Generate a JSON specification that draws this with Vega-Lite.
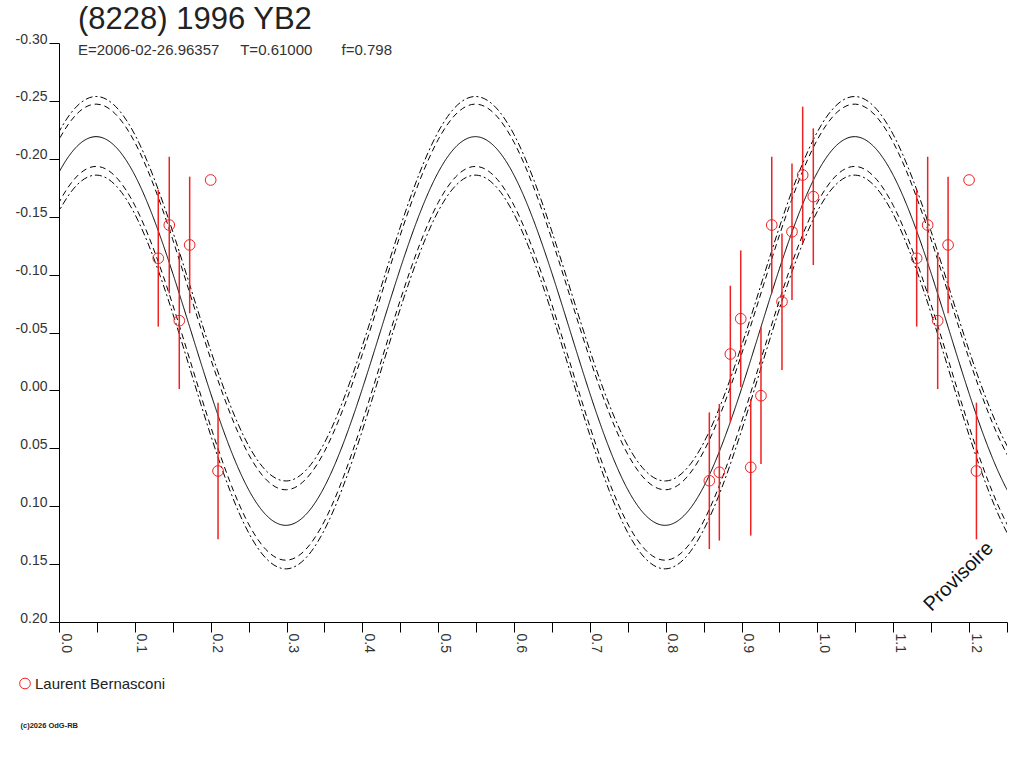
{
  "$schema": "https://vega.github.io/schema/vega-lite/v6.json",
  "description": "Lightcurve of (8228) 1996 YB2, phase plot with Fourier fit and observations",
  "autosize": {"type": "none"},
  "width": 948,
  "height": 579,
  "padding": {"left": 59, "top": 43, "right": 17, "bottom": 146},
  "title": {
    "text": "(8228) 1996 YB2",
    "subtitle": "E=2006-02-26.96357\u00a0\u00a0\u00a0\u00a0\u00a0T=0.61000\u00a0\u00a0\u00a0\u00a0\u00a0\u00a0\u00a0f=0.798",
    "anchor": "start",
    "frame": "group",
    "dx": 19,
    "offset": -27,
    "font": "Liberation Sans",
    "fontSize": 31,
    "fontWeight": "normal",
    "color": "#222222",
    "subtitleFont": "Liberation Sans",
    "subtitleFontSize": 15,
    "subtitleColor": "#333333",
    "subtitlePadding": 7
  },
  "datasets": {
    "curves": [
      {"phase": -0.10, "A": -0.0385, "B": -0.0312, "C": -0.0015, "D": 0.0271, "E": 0.0346},
      {"phase": -0.05, "A": -0.1411, "B": -0.1341, "C": -0.1052, "D": -0.0780, "E": -0.0705},
      {"phase": 0.00, "A": -0.2233, "B": -0.2166, "C": -0.1883, "D": -0.1622, "E": -0.1547},
      {"phase": 0.05, "A": -0.2538, "B": -0.2472, "C": -0.2191, "D": -0.1934, "E": -0.1859},
      {"phase": 0.10, "A": -0.2209, "B": -0.2142, "C": -0.1858, "D": -0.1597, "E": -0.1522},
      {"phase": 0.15, "A": -0.1371, "B": -0.1302, "C": -0.1011, "D": -0.0739, "E": -0.0664},
      {"phase": 0.20, "A": -0.0345, "B": -0.0273, "C": 0.0026, "D": 0.0312, "E": 0.0387},
      {"phase": 0.25, "A": 0.0477, "B": 0.0552, "C": 0.0857, "D": 0.1154, "E": 0.1229},
      {"phase": 0.30, "A": 0.0782, "B": 0.0858, "C": 0.1165, "D": 0.1466, "E": 0.1541},
      {"phase": 0.35, "A": 0.0453, "B": 0.0528, "C": 0.0832, "D": 0.1129, "E": 0.1204},
      {"phase": 0.40, "A": -0.0385, "B": -0.0312, "C": -0.0015, "D": 0.0271, "E": 0.0346},
      {"phase": 0.45, "A": -0.1411, "B": -0.1341, "C": -0.1052, "D": -0.0780, "E": -0.0705},
      {"phase": 0.50, "A": -0.2233, "B": -0.2166, "C": -0.1883, "D": -0.1622, "E": -0.1547},
      {"phase": 0.55, "A": -0.2538, "B": -0.2472, "C": -0.2191, "D": -0.1934, "E": -0.1859},
      {"phase": 0.60, "A": -0.2209, "B": -0.2142, "C": -0.1858, "D": -0.1597, "E": -0.1522},
      {"phase": 0.65, "A": -0.1371, "B": -0.1302, "C": -0.1011, "D": -0.0739, "E": -0.0664},
      {"phase": 0.70, "A": -0.0345, "B": -0.0273, "C": 0.0026, "D": 0.0312, "E": 0.0387},
      {"phase": 0.75, "A": 0.0477, "B": 0.0552, "C": 0.0857, "D": 0.1154, "E": 0.1229},
      {"phase": 0.80, "A": 0.0782, "B": 0.0858, "C": 0.1165, "D": 0.1466, "E": 0.1541},
      {"phase": 0.85, "A": 0.0453, "B": 0.0528, "C": 0.0832, "D": 0.1129, "E": 0.1204},
      {"phase": 0.90, "A": -0.0385, "B": -0.0312, "C": -0.0015, "D": 0.0271, "E": 0.0346},
      {"phase": 0.95, "A": -0.1411, "B": -0.1341, "C": -0.1052, "D": -0.0780, "E": -0.0705},
      {"phase": 1.00, "A": -0.2233, "B": -0.2166, "C": -0.1883, "D": -0.1622, "E": -0.1547},
      {"phase": 1.05, "A": -0.2538, "B": -0.2472, "C": -0.2191, "D": -0.1934, "E": -0.1859},
      {"phase": 1.10, "A": -0.2209, "B": -0.2142, "C": -0.1858, "D": -0.1597, "E": -0.1522},
      {"phase": 1.15, "A": -0.1371, "B": -0.1302, "C": -0.1011, "D": -0.0739, "E": -0.0664},
      {"phase": 1.20, "A": -0.0345, "B": -0.0273, "C": 0.0026, "D": 0.0312, "E": 0.0387},
      {"phase": 1.25, "A": 0.0477, "B": 0.0552, "C": 0.0857, "D": 0.1154, "E": 0.1229},
      {"phase": 1.30, "A": 0.0782, "B": 0.0858, "C": 0.1165, "D": 0.1466, "E": 0.1541},
      {"phase": 1.35, "A": 0.0453, "B": 0.0528, "C": 0.0832, "D": 0.1129, "E": 0.1204}
    ],
    "obs": [
      {"phase": 0.1309, "mag": -0.1141, "err": 0.059, "observer": "Laurent Bernasconi"},
      {"phase": 0.1454, "mag": -0.1428, "err": 0.059, "observer": "Laurent Bernasconi"},
      {"phase": 0.1586, "mag": -0.0602, "err": 0.059, "observer": "Laurent Bernasconi"},
      {"phase": 0.1723, "mag": -0.1256, "err": 0.059, "observer": "Laurent Bernasconi"},
      {"phase": 0.2000, "mag": -0.1817, "err": 0, "observer": "Laurent Bernasconi"},
      {"phase": 0.2097, "mag": 0.0696, "err": 0.059, "observer": "Laurent Bernasconi"},
      {"phase": 0.8575, "mag": 0.0780, "err": 0.059, "observer": "Laurent Bernasconi"},
      {"phase": 0.8707, "mag": 0.0707, "err": 0.059, "observer": "Laurent Bernasconi"},
      {"phase": 0.8852, "mag": -0.0314, "err": 0.059, "observer": "Laurent Bernasconi"},
      {"phase": 0.8989, "mag": -0.0619, "err": 0.059, "observer": "Laurent Bernasconi"},
      {"phase": 0.9121, "mag": 0.0664, "err": 0.059, "observer": "Laurent Bernasconi"},
      {"phase": 0.9256, "mag": 0.0046, "err": 0.059, "observer": "Laurent Bernasconi"},
      {"phase": 0.9398, "mag": -0.1428, "err": 0.059, "observer": "Laurent Bernasconi"},
      {"phase": 0.9533, "mag": -0.0766, "err": 0.059, "observer": "Laurent Bernasconi"},
      {"phase": 0.9665, "mag": -0.1370, "err": 0.059, "observer": "Laurent Bernasconi"},
      {"phase": 0.9806, "mag": -0.1860, "err": 0.059, "observer": "Laurent Bernasconi"},
      {"phase": 0.9946, "mag": -0.1673, "err": 0.059, "observer": "Laurent Bernasconi"},
      {"phase": 1.1309, "mag": -0.1141, "err": 0.059, "observer": "Laurent Bernasconi"},
      {"phase": 1.1454, "mag": -0.1428, "err": 0.059, "observer": "Laurent Bernasconi"},
      {"phase": 1.1586, "mag": -0.0602, "err": 0.059, "observer": "Laurent Bernasconi"},
      {"phase": 1.1723, "mag": -0.1256, "err": 0.059, "observer": "Laurent Bernasconi"},
      {"phase": 1.2000, "mag": -0.1817, "err": 0, "observer": "Laurent Bernasconi"},
      {"phase": 1.2097, "mag": 0.0696, "err": 0.059, "observer": "Laurent Bernasconi"}
    ]
  },
  "layer": [
    {
      "data": {"name": "curves"},
      "transform": [{"fold": ["A", "B", "C", "D", "E"], "as": ["curve", "mag"]}],
      "mark": {"type": "line", "interpolate": "natural", "clip": true, "color": "#000000", "strokeWidth": 1},
      "encoding": {
        "x": {"field": "phase", "type": "quantitative"},
        "y": {"field": "mag", "type": "quantitative"},
        "detail": {"field": "curve"},
        "strokeDash": {
          "field": "curve",
          "type": "nominal",
          "scale": {"domain": ["A", "B", "C", "D", "E"], "range": [[7, 3, 2, 3], [6, 4], [1, 0], [6, 4], [7, 3, 2, 3]]},
          "legend": null
        }
      }
    },
    {
      "data": {"name": "obs"},
      "mark": {"type": "errorbar", "color": "#ee2222", "thickness": 1.5},
      "encoding": {
        "x": {"field": "phase", "type": "quantitative"},
        "y": {"field": "mag", "type": "quantitative"},
        "yError": {"field": "err"}
      }
    },
    {
      "data": {"name": "obs"},
      "mark": {"type": "point", "shape": "circle", "filled": false, "size": 114, "strokeWidth": 1, "opacity": 1},
      "encoding": {
        "x": {"field": "phase", "type": "quantitative"},
        "y": {"field": "mag", "type": "quantitative"},
        "color": {
          "field": "observer",
          "type": "nominal",
          "scale": {"range": ["#ee2222"]},
          "legend": {
            "title": null,
            "orient": "none",
            "legendX": -41.5,
            "legendY": 633,
            "padding": 0,
            "symbolType": "circle",
            "symbolSize": 114,
            "symbolStrokeWidth": 1,
            "labelFont": "Liberation Sans",
            "labelFontSize": 15,
            "labelColor": "#222222",
            "labelOffset": 2.5
          }
        }
      }
    },
    {
      "data": {"values": [{"label": "Provisoire"}]},
      "mark": {"type": "text", "angle": 315, "font": "Liberation Sans", "fontSize": 20, "color": "#111111", "align": "center", "baseline": "middle", "clip": false},
      "encoding": {
        "text": {"field": "label"},
        "x": {"datum": 1.1862, "type": "quantitative"},
        "y": {"datum": 0.1608, "type": "quantitative"}
      }
    }
  ],
  "encoding": {
    "x": {
      "type": "quantitative",
      "scale": {"domain": [0, 1.25], "nice": false, "zero": false},
      "axis": {
        "values": [0, 0.05, 0.1, 0.15, 0.2, 0.25, 0.3, 0.35, 0.4, 0.45, 0.5, 0.55, 0.6, 0.65, 0.7, 0.75, 0.8, 0.85, 0.9, 0.95, 1, 1.05, 1.1, 1.15, 1.2, 1.25],
        "labelExpr": "round(datum.value * 20) % 2 == 1 ? '' : format(datum.value, '.1f')",
        "labelAngle": 90,
        "labelAlign": "left",
        "labelBaseline": "alphabetic",
        "labelOffset": 2,
        "labelPadding": 1,
        "labelFlush": false,
        "labelOverlap": false,
        "labelFont": "Liberation Sans",
        "labelFontSize": 14,
        "labelColor": "#333333",
        "tickSize": 10,
        "tickColor": "#000000",
        "domainColor": "#000000",
        "grid": false,
        "title": "(c)2026 OdG-RB",
        "titleFont": "Liberation Sans",
        "titleFontSize": 7.5,
        "titleFontWeight": "bold",
        "titleColor": "#222222",
        "titleX": -39,
        "titleY": 103,
        "titleAlign": "left",
        "titleBaseline": "middle"
      }
    },
    "y": {
      "type": "quantitative",
      "scale": {"domain": [-0.3, 0.2], "reverse": true, "nice": false, "zero": false},
      "axis": {
        "values": [-0.3, -0.25, -0.2, -0.15, -0.1, -0.05, 0, 0.05, 0.1, 0.15, 0.2],
        "labelExpr": "replace(format(datum.value, '.2f'), '\u2212', '-')",
        "labelBaseline": "alphabetic",
        "labelPadding": 2,
        "labelFlush": false,
        "labelOverlap": false,
        "labelFont": "Liberation Sans",
        "labelFontSize": 14,
        "labelColor": "#333333",
        "tickSize": 10,
        "tickColor": "#000000",
        "domainColor": "#000000",
        "grid": false,
        "title": null
      }
    }
  },
  "config": {
    "font": "Liberation Sans",
    "view": {"stroke": null},
    "background": "#ffffff"
  }
}
